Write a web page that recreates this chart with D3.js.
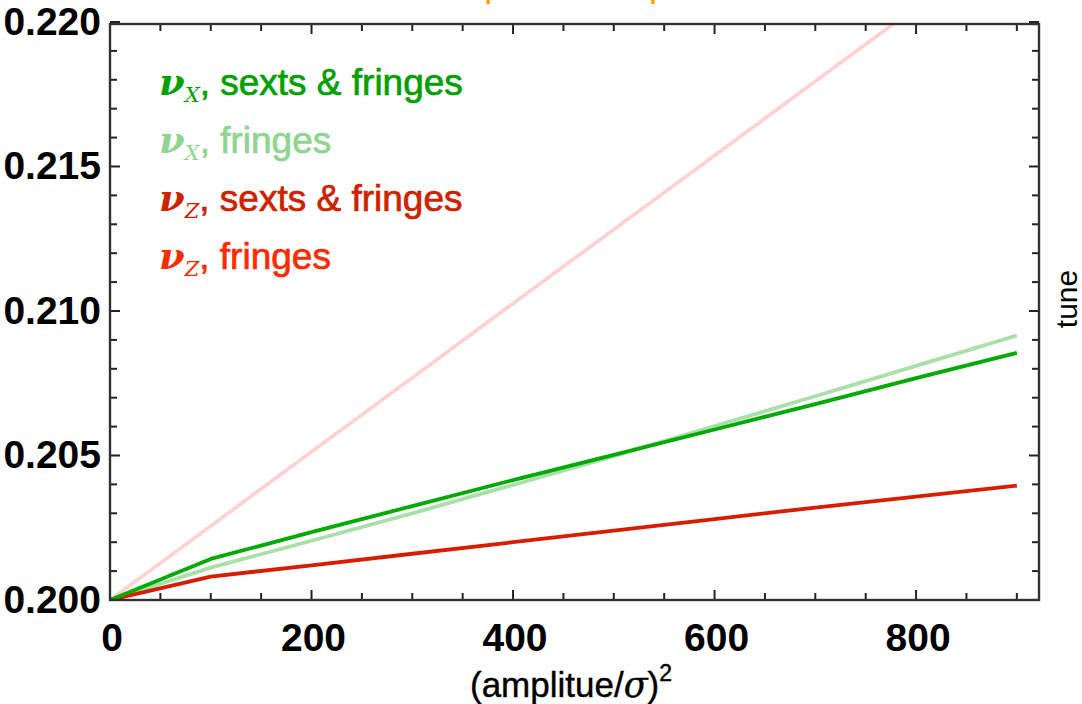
<!DOCTYPE html>
<html>
<head>
<meta charset="utf-8">
<script src="https://cdn.jsdelivr.net/npm/d3@7"></script>
<style>
  html, body { margin: 0; padding: 0; background: #fff; }
  svg { display: block; }
</style>
</head>
<body>
<svg id="chart" width="1082" height="704"></svg>
<script>
// amplitude squared (in units of sigma^2) at which the tunes were tracked
const amp2 = [0, 100, 200, 300, 400, 500, 600, 700, 800, 900];

// horizontal tune
const nuXSextsFringes = [0.2000, 0.20142, 0.20235, 0.20325, 0.20415, 0.20502, 0.20590, 0.20678, 0.20768, 0.20855];
const nuXFringes      = [0.2000, 0.20112, 0.20205, 0.20300, 0.20398, 0.20498, 0.20602, 0.20705, 0.20810, 0.20915];
// vertical tune
const nuZSextsFringes = [0.2000, 0.20081, 0.20120, 0.20160, 0.20200, 0.20240, 0.20280, 0.20320, 0.20358, 0.20396];
const nuZFringes      = [0.2000, 0.20256, 0.20513, 0.20769, 0.21026, 0.21282, 0.21538, 0.21795, 0.22051, 0.22308];

const xTicks = [0, 200, 400, 600, 800];
const yTicks = [0.200, 0.205, 0.210, 0.215, 0.220];

const series = [
  { name: "fringes", sym: "z", values: nuZFringes,      line: "#ffd2d2", text: "#ff2a00" },
  { name: "fringes", sym: "x", values: nuXFringes,      line: "#a9dfa9", text: "#8fd48f" },
  { name: "sexts & fringes", sym: "z", values: nuZSextsFringes, line: "#d81c00", text: "#cc2200" },
  { name: "sexts & fringes", sym: "x", values: nuXSextsFringes, line: "#00aa00", text: "#00a000" }
];
const legendOrder = [3, 1, 2, 0];

const svg = d3.select("#chart");
const plotLeft = 110, plotRight = 1039, plotTop = 24, plotBottom = 600;

const x = d3.scaleLinear().domain([0, 922]).range([plotLeft, plotRight]);
const y = d3.scaleLinear().domain([0.200, 0.21993]).range([plotBottom, plotTop]);

const labelFont = "Liberation Sans, Arial, sans-serif";

// title, sitting mostly above the visible area
svg.append("text")
  .attr("x", 427).attr("y", -4)
  .attr("font-family", labelFont)
  .attr("font-size", 38)
  .attr("fill", "#f5a000")
  .text("Amplitude dependent tune shift");

svg.append("clipPath").attr("id", "plotclip")
  .append("rect").attr("x", plotLeft).attr("y", plotTop)
  .attr("width", plotRight - plotLeft).attr("height", plotBottom - plotTop);

const line = d3.line().x((d, i) => x(amp2[i])).y(d => y(d));

const plot = svg.append("g").attr("clip-path", "url(#plotclip)");
series.forEach(s => {
  plot.append("path")
    .datum(s.values)
    .attr("d", line)
    .attr("fill", "none")
    .attr("stroke", s.line)
    .attr("stroke-width", 3.8)
    .attr("stroke-linejoin", "round");
});

// frame ticks: majors labelled, minors in between, mirrored on top and right
const xMinor = d3.range(0, 921, 50);
const yMinor = d3.range(0, 21).map(i => 0.200 + i * 0.001);
const tickG = svg.append("g").attr("stroke", "#222").attr("stroke-width", 2);
xMinor.forEach(v => {
  const len = v % 200 === 0 ? 10 : 7;
  tickG.append("line").attr("x1", x(v)).attr("x2", x(v)).attr("y1", plotBottom).attr("y2", plotBottom - len);
  tickG.append("line").attr("x1", x(v)).attr("x2", x(v)).attr("y1", plotTop).attr("y2", plotTop + len);
});
yMinor.forEach((v, i) => {
  const len = i % 5 === 0 ? 10 : 7;
  tickG.append("line").attr("y1", y(v)).attr("y2", y(v)).attr("x1", plotLeft).attr("x2", plotLeft + len);
  tickG.append("line").attr("y1", y(v)).attr("y2", y(v)).attr("x1", plotRight).attr("x2", plotRight - len);
});

svg.append("rect")
  .attr("x", plotLeft).attr("y", plotTop)
  .attr("width", plotRight - plotLeft).attr("height", plotBottom - plotTop)
  .attr("fill", "none").attr("stroke", "#333").attr("stroke-width", 2.4);

svg.append("g").selectAll("text").data(xTicks).join("text")
  .attr("x", d => x(d) + 2)
  .attr("y", 651)
  .attr("text-anchor", "middle")
  .attr("font-family", labelFont).attr("font-weight", "bold")
  .attr("font-size", 39).attr("fill", "#000")
  .text(d => d3.format("d")(d));

svg.append("g").selectAll("text").data(yTicks).join("text")
  .attr("x", 101)
  .attr("y", d => y(d) + 13)
  .attr("text-anchor", "end")
  .attr("font-family", labelFont).attr("font-weight", "bold")
  .attr("font-size", 39).attr("fill", "#000")
  .text(d => d3.format(".3f")(d));

// axis labels
const xl = svg.append("text")
  .attr("x", 571).attr("y", 697)
  .attr("text-anchor", "middle")
  .attr("font-family", labelFont)
  .attr("font-size", 35).attr("fill", "#000")
  .attr("stroke", "#000").attr("stroke-width", 0.4);
xl.append("tspan").text("(amplitue/");
xl.append("tspan").attr("font-family", "DejaVu Serif, serif").attr("font-style", "italic").text("σ");
xl.append("tspan").text(")");
xl.append("tspan").attr("font-size", 23).attr("dy", -16).text("2");

svg.append("text")
  .attr("transform", "translate(1077,299) rotate(-90)")
  .attr("text-anchor", "middle")
  .attr("font-family", labelFont)
  .attr("font-size", 30).attr("fill", "#000")
  .text("tune");

// legend
const lg = svg.append("g");
legendOrder.forEach((si, k) => {
  const s = series[si];
  const t = lg.append("text")
    .attr("x", 159).attr("y", 95 + k * 58)
    .attr("font-family", labelFont)
    .attr("font-size", 37)
    .attr("fill", s.text)
    .attr("stroke", s.text).attr("stroke-width", 0.7);
  t.append("tspan").attr("font-family", "DejaVu Serif, serif").attr("font-style", "italic")
    .attr("font-weight", "bold").attr("stroke-width", 0).text("ν");
  t.append("tspan").attr("font-family", "DejaVu Serif, serif").attr("font-style", "italic")
    .attr("stroke-width", 0).attr("font-size", 21).attr("dy", 7).text(s.sym.toUpperCase());
  t.append("tspan").attr("dy", -7).text(", " + s.name);
});
</script>
</body>
</html>
